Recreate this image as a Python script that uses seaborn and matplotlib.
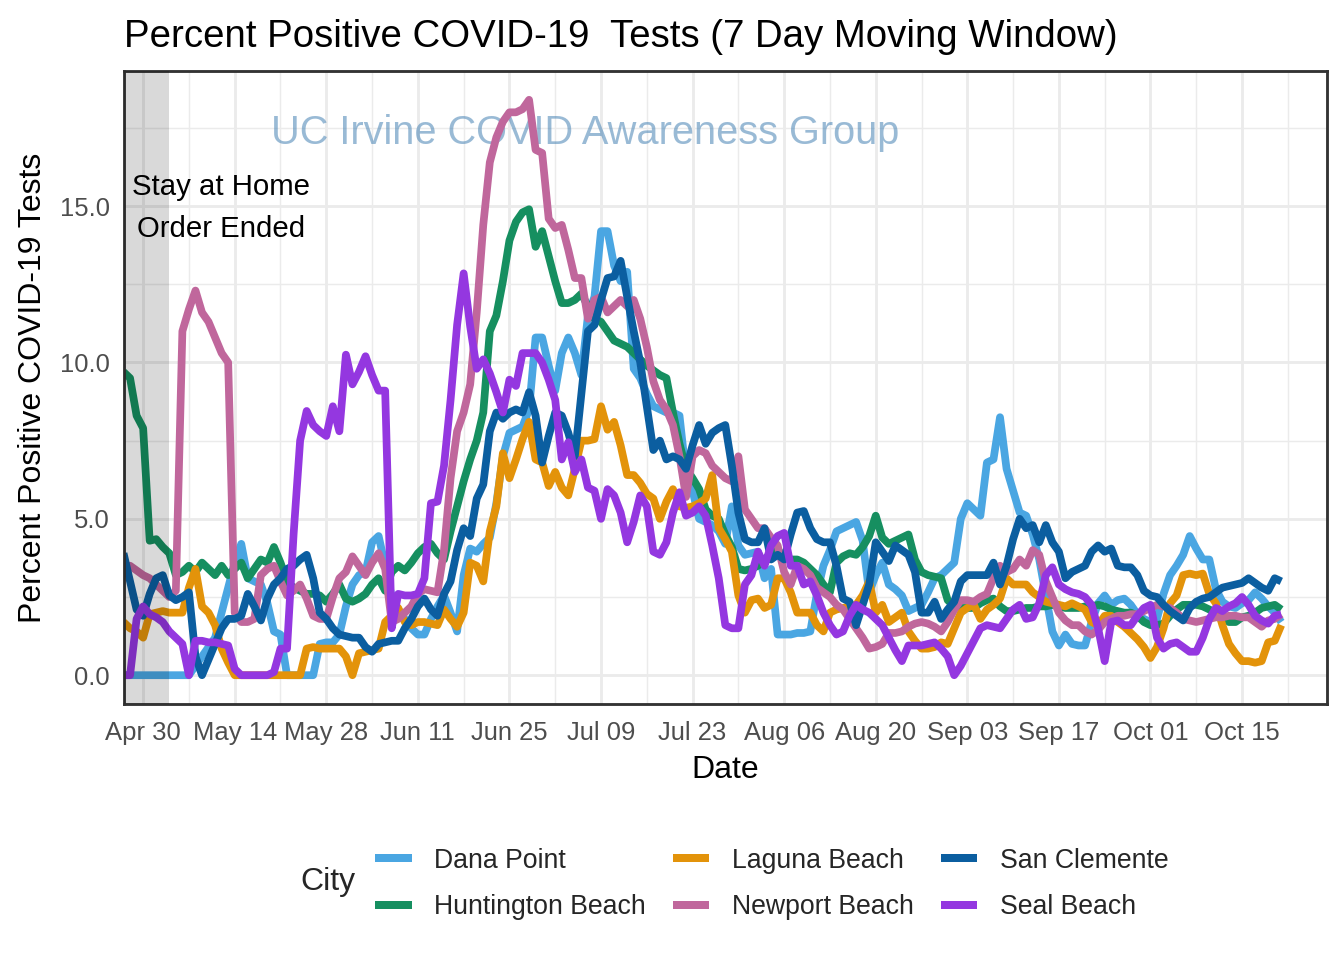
import numpy as np
import pandas as pd
import matplotlib
matplotlib.use("Agg")
import matplotlib.pyplot as plt
from matplotlib.lines import Line2D
from matplotlib.ticker import FixedLocator
import seaborn as sns

# ---------------- data ----------------
start_date = "2020-04-27"
cities = ["Dana Point", "Huntington Beach", "Laguna Beach",
          "Newport Beach", "San Clemente", "Seal Beach"]
city_colors = ["#4AA6E2", "#168F60", "#E3930A", "#C0679C", "#0B5EA0", "#9437E0"]

dana_point = [
    0, 0, 0, 0, 0, 0, 0,
    0, 0, 0, 0.0, 0.3, 0.6, 0.9,
    1.2, 2.0, 2.8, 3.6, 4.2, 3.1, 3.0,
    2.9, 2.3, 1.4, 1.3, 0.0, 0.0, 0.0,
    0.0, 0.0, 1.0, 1.05, 1.05, 1.3, 2.2,
    2.9, 3.2, 3.3, 4.25, 4.45, 3.5, 2.5,
    2.1, 1.8, 1.5, 1.3, 1.3, 1.8, 2.2,
    2.55, 2.0, 1.4, 3.2, 4.05, 3.95, 4.2,
    4.4, 5.5, 7.0, 7.75, 7.85, 7.95, 8.5,
    10.8, 10.8, 9.9, 9.1, 10.3, 10.8, 10.3,
    9.6, 11.5, 12.1, 14.2, 14.2, 13.1, 12.6,
    12.9, 9.8, 9.5, 9.0, 8.6, 8.5, 8.4,
    8.4, 8.3, 6.4, 5.9, 5.0, 4.9, 4.8,
    4.6, 4.2, 5.4, 4.15, 3.85, 3.9, 3.95,
    3.1, 3.4, 1.3, 1.3, 1.3, 1.35, 1.35,
    1.4, 2.6, 3.5, 4.0, 4.6, 4.7, 4.8,
    4.9, 4.3, 2.65, 3.2, 3.6, 2.9, 2.75,
    2.55, 2.05, 2.15, 2.25, 2.65, 3.1, 3.2,
    3.4, 3.6, 5.0, 5.5, 5.3, 5.1, 6.8,
    6.9, 8.25, 6.6, 5.9, 5.2, 5.1, 4.5,
    3.7, 2.55, 1.4, 0.95, 1.3, 1.0, 0.95,
    0.95, 1.7, 2.3, 2.55, 2.25, 2.4, 2.45,
    2.25, 1.95, 1.8, 1.7, 1.8, 2.6, 3.2,
    3.5, 3.85, 4.45, 4.05, 3.7, 3.7, 2.75,
    2.35, 2.2, 2.15, 2.3, 2.4, 2.65, 2.45,
    2.2, 2.0, 1.7,
]

huntington_beach = [
    9.7, 9.5, 8.3, 7.9, 4.3, 4.35, 4.1,
    3.9, 3.2, 3.3, 3.5, 3.3, 3.6, 3.4,
    3.2, 3.5, 3.2, 3.4, 3.6, 3.1, 3.4,
    3.7, 3.6, 4.1, 3.6, 3.0, 2.8, 2.7,
    2.6, 2.6, 2.55, 2.35, 2.6, 2.9, 2.45,
    2.35, 2.45, 2.6, 2.9, 3.1, 2.7, 3.3,
    3.5, 3.35, 3.6, 3.9, 4.1, 4.2, 3.9,
    3.7, 4.6, 5.4, 6.2, 6.9, 7.5, 8.4,
    11.0, 11.5, 12.6, 13.9, 14.5, 14.8, 14.9,
    13.7, 14.2, 13.4, 12.6, 11.9, 11.9, 12.0,
    12.2, 11.8, 11.4, 11.3, 11.0, 10.7, 10.6,
    10.5, 10.3, 10.1, 9.9, 9.75, 9.6, 9.5,
    8.4, 7.4, 6.6, 6.3, 5.95, 5.3, 5.1,
    5.0, 4.5, 4.1, 3.4, 3.35, 3.4, 3.5,
    3.7, 3.9, 4.0, 3.8, 3.7, 3.7, 3.6,
    3.4, 3.2, 2.9, 2.65, 3.6, 3.8, 3.9,
    3.85, 4.1, 4.45, 5.1, 4.4, 4.2, 4.3,
    4.4, 4.5, 3.7, 3.3, 3.2, 3.15, 3.1,
    2.4, 2.2, 2.15, 2.15, 2.15, 2.3, 2.4,
    2.45, 2.2, 2.05, 2.05, 2.1, 2.15, 2.15,
    2.2, 2.2, 2.25, 2.2, 2.15, 2.15, 2.15,
    2.2, 2.2, 2.25, 2.2, 2.1, 2.05, 2.0,
    2.0, 1.9, 1.7, 1.6, 1.6, 1.65, 1.9,
    2.1, 2.25, 2.25, 2.25, 2.2, 2.1, 2.0,
    1.85, 1.7, 1.7, 1.85, 1.9, 2.0, 2.15,
    2.2, 2.25, 2.1,
]

laguna_beach = [
    1.7, 1.5, 1.4, 1.2, 1.95, 2.0, 2.05,
    2.0, 2.0, 2.0, 2.8, 3.4, 2.2, 2.0,
    1.6, 0.85, 0.4, 0.0, 0.0, 0.0, 0.0,
    0.0, 0.0, 0.0, 0.0, 0.0, 0.0, 0.0,
    0.85, 0.9, 0.85, 0.85, 0.85, 0.85, 0.6,
    0.0, 0.7, 0.75, 0.8, 0.85, 1.7, 1.9,
    2.15, 1.7, 1.6, 1.7, 1.7, 1.65, 1.6,
    2.1, 1.8, 1.55, 2.0, 3.6, 3.5, 3.0,
    4.6, 5.4, 7.1, 6.3, 6.9, 7.55, 8.1,
    6.9, 6.8, 6.05, 6.5, 6.0, 5.75, 6.6,
    7.5, 7.5, 7.55, 8.6, 7.85, 8.1, 7.35,
    6.4, 6.4, 6.15, 5.8, 5.65, 5.0, 5.55,
    5.95, 5.4, 5.35, 5.4, 5.5, 5.65, 6.4,
    4.7, 4.35, 3.95, 2.55, 2.0, 2.4, 2.45,
    2.15, 2.25, 3.1, 3.1, 2.65, 2.0, 2.0,
    2.0, 1.6, 1.4, 2.0, 2.1, 2.15, 2.2,
    2.25, 2.55, 3.0, 2.0, 2.25, 1.7, 1.85,
    2.0, 1.4, 1.1, 0.85, 0.85, 0.9, 1.05,
    1.0, 1.5, 2.0, 2.15, 2.25, 1.8, 2.1,
    2.25, 2.45, 3.1, 2.9, 2.9, 2.9, 2.65,
    2.5, 2.35, 2.3, 2.25, 2.2, 2.3, 2.2,
    2.1, 1.7, 1.6, 1.9, 1.9, 1.7, 1.55,
    1.35, 1.15, 0.9, 0.55, 0.9, 1.5, 2.3,
    2.55, 3.2, 3.25, 3.2, 3.25, 2.6, 2.3,
    1.6, 1.0, 0.7, 0.45, 0.45, 0.4, 0.45,
    1.05, 1.1, 1.6,
]

newport_beach = [
    3.4, 3.5, 3.35, 3.2, 3.1, 2.9, 2.7,
    2.5, 2.7, 11.0, 11.7, 12.3, 11.6, 11.3,
    10.8, 10.3, 10.0, 2.0, 1.7, 1.7, 1.8,
    3.2, 3.4, 3.5, 3.0, 2.55, 2.7, 2.9,
    2.45, 1.9, 1.8, 1.8, 2.5, 3.1, 3.3,
    3.8, 3.5, 3.2, 3.6, 3.9, 3.4, 1.7,
    1.8, 2.0, 2.2, 2.6, 2.75, 2.7, 2.65,
    4.0, 6.3, 7.8, 8.4, 9.3, 11.6, 14.4,
    16.4, 17.2, 17.7, 18.0, 18.0, 18.1, 18.4,
    16.8, 16.7, 14.6, 14.3, 14.4, 13.6, 12.7,
    12.7, 11.4, 12.0, 12.1, 11.6, 11.8, 12.0,
    11.8, 12.0, 11.4, 10.5, 9.4, 8.8, 8.5,
    8.0, 7.0, 5.7, 7.0, 7.2, 7.1, 6.7,
    6.5, 6.3, 6.2, 7.0, 5.3, 5.0, 4.7,
    4.7, 4.4, 4.15, 3.3, 2.9, 3.5, 3.4,
    3.2, 2.8, 2.65, 2.5, 2.25, 2.1, 1.8,
    1.5, 1.2, 0.85, 0.9, 1.0, 1.35, 1.35,
    1.4, 1.55, 1.65, 1.7, 1.65, 1.55, 1.4,
    1.7, 2.1, 2.4, 2.4, 2.35, 2.5, 2.6,
    3.1, 3.5, 3.3, 3.4, 3.7, 3.5, 4.0,
    3.85, 3.0, 2.5, 2.0, 1.75, 1.6, 1.6,
    1.4, 1.3, 1.45, 1.7, 1.8, 1.9, 1.9,
    1.95, 1.95, 2.05, 2.15, 2.25, 2.2, 2.15,
    2.0, 1.8, 1.75, 1.7, 1.75, 1.8, 1.85,
    1.85, 1.9, 1.9, 1.85, 1.85, 1.7, 1.55,
    1.75, 1.8, 1.95,
]

san_clemente = [
    3.9, 3.0, 2.1, 1.9, 2.6, 3.1, 3.2,
    2.55, 2.4, 2.5, 2.65, 0.6, 0.0, 0.5,
    1.0, 1.5, 1.8, 1.8, 1.9, 2.6, 2.2,
    1.75, 2.45, 2.9, 3.1, 3.4, 3.5, 3.7,
    3.85, 3.1, 2.0, 1.8, 1.5, 1.3, 1.25,
    1.2, 1.2, 0.9, 0.75, 1.0, 1.05, 1.1,
    1.1, 1.5, 1.8, 2.2, 2.45, 2.1, 1.9,
    2.6, 3.0, 4.0, 4.7, 4.45, 5.65, 6.1,
    7.8, 8.4, 8.2, 8.4, 8.5, 8.4, 9.05,
    8.3, 6.8, 7.65, 8.4, 8.3, 7.75, 7.0,
    9.0, 11.0, 11.2, 12.0, 12.7, 12.75, 13.25,
    12.1, 11.0, 10.0, 8.6, 7.2, 7.5, 6.9,
    7.0, 6.9, 6.6, 7.35, 8.0, 7.4, 7.75,
    7.9, 8.0, 6.7, 5.2, 4.35, 4.25, 4.25,
    4.7, 3.7, 3.85, 3.7, 4.5, 5.2, 5.25,
    4.7, 4.35, 4.25, 4.25, 3.5, 2.45, 2.35,
    1.6, 2.25, 2.9, 4.25, 3.95, 3.65, 4.15,
    4.0, 3.85, 3.3, 2.0, 2.0, 2.35, 1.8,
    2.1, 2.35, 3.0, 3.2, 3.2, 3.2, 3.2,
    3.6, 2.9, 3.5, 4.35, 5.0, 4.7, 4.8,
    4.25, 4.8, 4.25, 3.95, 3.1, 3.3, 3.4,
    3.5, 3.95, 4.15, 3.95, 4.05, 3.5, 3.45,
    3.45, 3.2, 2.7, 2.55, 2.5, 2.25, 2.05,
    1.9, 1.75, 2.15, 2.35, 2.45, 2.5, 2.65,
    2.8, 2.85, 2.9, 2.95, 3.1, 2.95, 2.8,
    2.7, 3.1, 3.0,
]

seal_beach = [
    0.0, 0.0, 1.8, 2.2, 1.95, 1.85, 1.7,
    1.4, 1.2, 1.0, 0.0, 1.1, 1.1, 1.05,
    1.05, 1.0, 0.95, 0.2, 0.0, 0.0, 0.0,
    0.0, 0.0, 0.1, 0.85, 0.85, 4.5, 7.5,
    8.45, 8.0, 7.8, 7.65, 8.6, 7.8, 10.25,
    9.3, 9.7, 10.2, 9.6, 9.1, 9.1, 1.5,
    2.6, 2.55, 2.55, 2.6, 3.1, 5.5, 5.55,
    6.7, 8.8, 11.2, 12.85, 11.15, 9.8, 10.1,
    9.65, 9.05, 8.4, 9.45, 9.25, 10.3, 10.3,
    10.3, 10.0, 9.45, 8.8, 6.9, 7.45, 6.5,
    6.9, 6.0, 5.9, 5.0, 5.95, 5.75, 5.2,
    4.25, 4.9, 5.75, 5.4, 3.95, 3.85, 4.25,
    5.2, 5.85, 5.1, 5.2, 5.4, 5.1, 4.15,
    3.1, 1.6, 1.5, 1.5, 2.9, 3.2, 3.95,
    3.5, 4.15, 4.45, 4.55, 3.5, 3.5, 2.9,
    3.0, 2.55, 2.0, 1.6, 1.3, 1.4, 1.9,
    2.25, 2.1, 2.0, 1.8, 1.6, 1.2, 0.8,
    0.45, 0.95, 0.95, 0.95, 1.0, 1.05, 0.85,
    0.6, 0.0, 0.3, 0.7, 1.1, 1.5, 1.6,
    1.55, 1.5, 1.8, 2.1, 2.25, 1.8, 1.85,
    2.3, 3.2, 3.45, 2.9, 2.75, 2.65, 2.6,
    2.5, 2.25, 1.5, 0.45, 1.7, 1.75, 1.6,
    1.6, 1.9, 2.15, 2.25, 1.2, 0.85, 1.0,
    1.05, 0.9, 0.75, 0.75, 1.2, 1.8, 2.15,
    2.05, 2.2, 2.3, 2.5, 2.25, 1.9, 1.75,
    1.65, 1.9, 1.95,
]

tick_dates = ["2020-04-30", "2020-05-14", "2020-05-28", "2020-06-11", "2020-06-25",
              "2020-07-09", "2020-07-23", "2020-08-06", "2020-08-20", "2020-09-03",
              "2020-09-17", "2020-10-01", "2020-10-15"]
tick_labels = ["Apr 30", "May 14", "May 28", "Jun 11", "Jun 25", "Jul 09", "Jul 23",
               "Aug 06", "Aug 20", "Sep 03", "Sep 17", "Oct 01", "Oct 15"]
y_ticks = [0, 5, 10, 15]
y_tick_labels = ["0.0", "5.0", "10.0", "15.0"]

series = [dana_point, huntington_beach, laguna_beach, newport_beach, san_clemente, seal_beach]
n_days = len(dana_point)
for s in series:
    assert len(s) == n_days, len(s)

dates = pd.date_range(start_date, periods=n_days, freq="D")
df = pd.concat([pd.DataFrame({"Date": dates, "City": c, "Pct": v})
                for c, v in zip(cities, series)], ignore_index=True)

# ---------------- style ----------------
sns.set_theme(style="white")
plt.rcParams["font.family"] = ["Liberation Sans", "DejaVu Sans"]

fig = plt.figure(figsize=(7, 5), dpi=192)
ax = fig.add_axes([0.0919, 0.2667, 0.8955, 0.6593])

palette = dict(zip(cities, city_colors))
sns.lineplot(data=df, x="Date", y="Pct", hue="City", hue_order=cities,
             palette=palette, linewidth=2.9, ax=ax, legend=False,
             solid_capstyle="butt")

t0 = pd.Timestamp(start_date)
ax.set_xlim(t0, pd.Timestamp("2020-10-28"))
ax.set_ylim(-0.92, 19.32)

# grid
major_x = [pd.Timestamp(d) for d in tick_dates]
minor_x = [d + pd.Timedelta(days=7) for d in major_x]
ax.xaxis.set_major_locator(FixedLocator([matplotlib.dates.date2num(d) for d in major_x]))
ax.xaxis.set_minor_locator(FixedLocator([matplotlib.dates.date2num(d) for d in minor_x]))
ax.set_xticklabels(tick_labels)
ax.yaxis.set_major_locator(FixedLocator(y_ticks))
ax.yaxis.set_minor_locator(FixedLocator([2.5, 7.5, 12.5, 17.5]))
ax.set_yticklabels(y_tick_labels)
ax.set_axisbelow(True)
ax.grid(which="major", color="#EBEBEB", linewidth=1.07)
ax.grid(which="minor", color="#EBEBEB", linewidth=0.53)
ax.tick_params(axis="both", which="major", direction="out", length=2.75, width=1.07,
               color="#333333", labelcolor="#4D4D4D", labelsize=9.6)
ax.tick_params(axis="x", which="major", pad=3.5)
ax.tick_params(axis="y", which="major", pad=2.5)
ax.tick_params(which="minor", length=0)
for sp in ax.spines.values():
    sp.set_visible(True)
    sp.set_color("#333333")
    sp.set_linewidth(1.07)

# shaded stay-at-home region (drawn over the lines, as in the original)
ax.axvspan(pd.Timestamp("2020-04-20"), pd.Timestamp("2020-05-04"),
           color="black", alpha=0.15, lw=0, zorder=5)

ax.text(t0 + pd.Timedelta(days=14.9), 14.95, "Stay at Home\nOrder Ended",
        ha="center", va="center", fontsize=11, linespacing=1.62, color="black", zorder=7)
ax.text(t0 + pd.Timedelta(days=70.6), 17.35, "UC Irvine COVID Awareness Group",
        ha="center", va="center", fontsize=14.9, color="steelblue", alpha=0.55, zorder=1)

ax.set_xlabel("Date", fontsize=12, color="black")
ax.set_ylabel("Percent Positive COVID-19 Tests", fontsize=12, color="black")
ax.xaxis.set_label_coords(0.5, -0.08)
ax.yaxis.set_label_coords(-0.063, 0.5)

fig.text(0.0919, 0.951, "Percent Positive COVID-19  Tests (7 Day Moving Window)",
         fontsize=14.4, ha="left", va="baseline", color="black")

# legend
handles = [Line2D([], [], color=c, lw=3.0, solid_capstyle="butt") for c in city_colors]
fig.legend(handles, cities, ncol=3, loc="center left",
           bbox_to_anchor=(375 / 1344, 1 - 884 / 960), frameon=False,
           fontsize=10, handlelength=1.37, handletextpad=0.86, columnspacing=1.0,
           labelspacing=0.78, borderpad=0, borderaxespad=0)
fig.text(300 / 1344, 1 - 882 / 960, "City", fontsize=12, ha="left", va="center")

fig.savefig("out.png", dpi=192)
